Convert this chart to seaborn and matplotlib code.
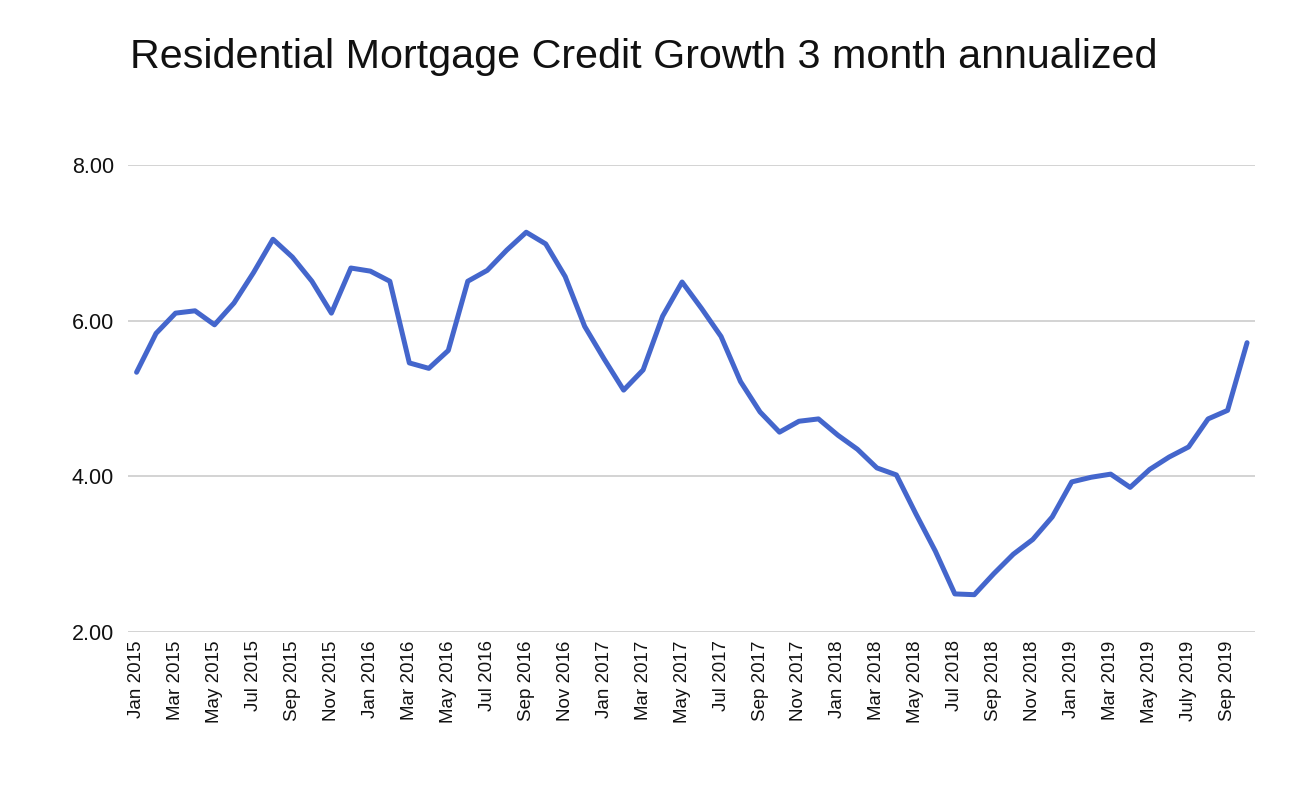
import matplotlib
matplotlib.use("Agg")
import matplotlib.pyplot as plt
import seaborn as sns
import numpy as np
import pandas as pd

# monthly values, Jan 2015 - Oct 2019
months = pd.date_range("2015-01-01", "2019-10-01", freq="MS")
growth = [
    5.34, 5.84, 6.10, 6.13, 5.95, 6.23, 6.62, 7.05, 6.82, 6.51, 6.10, 6.68,
    6.64, 6.51, 5.46, 5.39, 5.62, 6.51, 6.65, 6.91, 7.14, 6.99, 6.57, 5.93,
    5.51, 5.11, 5.37, 6.06, 6.50, 6.16, 5.80, 5.22, 4.83, 4.57, 4.71, 4.74,
    4.53, 4.35, 4.11, 4.02, 3.52, 3.04, 2.49, 2.48, 2.75, 3.00, 3.19, 3.48,
    3.93, 3.99, 4.03, 3.86, 4.09, 4.25, 4.38, 4.74, 4.85, 5.72,
]
tick_labels = [
    "Jan 2015", "Mar 2015", "May 2015", "Jul 2015", "Sep 2015", "Nov 2015",
    "Jan 2016", "Mar 2016", "May 2016", "Jul 2016", "Sep 2016", "Nov 2016",
    "Jan 2017", "Mar 2017", "May 2017", "Jul 2017", "Sep 2017", "Nov 2017",
    "Jan 2018", "Mar 2018", "May 2018", "Jul 2018", "Sep 2018", "Nov 2018",
    "Jan 2019", "Mar 2019", "May 2019", "July 2019", "Sep 2019",
]
y_ticks = [2, 4, 6, 8]

df = pd.DataFrame({"month": months, "growth": growth})
df["idx"] = np.arange(len(df))

sns.set_style("white")
plt.rcParams["font.family"] = ["Liberation Sans", "DejaVu Sans"]

fig = plt.figure(figsize=(12.91, 7.95), dpi=100)
ax = fig.add_axes([0.099, 0.205, 0.873, 0.587])

sns.lineplot(data=df, x="idx", y="growth", ax=ax, color="#4466cc", linewidth=3.6)

ax.set_ylim(2, 8)
ax.set_xlim(-0.45, 57.4)
ax.set_yticks(y_ticks)
ax.set_yticklabels([f"{v:.2f}" for v in y_ticks], fontsize=15.5, color="#111111")
ax.set_xticks(df["idx"][::2])
ax.set_xticklabels(tick_labels, rotation=90, fontsize=13.5, color="#111111")
ax.tick_params(axis="y", length=0, pad=10)
ax.tick_params(axis="x", length=0, pad=6)
ax.grid(axis="y", color="#cccccc", linewidth=1.2)
for s in ax.spines.values():
    s.set_visible(False)
ax.set_xlabel("")
ax.set_ylabel("")

fig.text(0.101, 1 - 68 / 795, "Residential Mortgage Credit Growth 3 month annualized",
         fontsize=29.7, ha="left", va="baseline", color="#111111")

fig.savefig("out.png", dpi=100, facecolor="white")
